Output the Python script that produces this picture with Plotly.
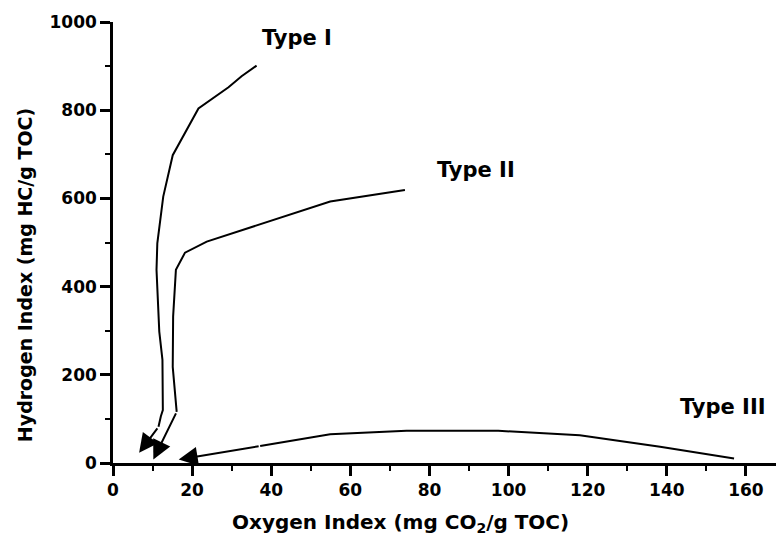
import plotly.graph_objects as go

# Type I pathway (Oxygen Index, Hydrogen Index)
type1_oi = [36.3, 32.5, 29.2, 21.6, 15.1, 12.7, 11.2, 11.0, 11.7, 12.5, 12.6, 12.1, 11.5]
type1_hi = [901, 877, 852, 804, 698, 604, 498, 438, 298, 234, 120, 106, 82]
type1_tip = (6.6, 23)

# Type II pathway
type2_oi = [73.8, 54.9, 23.7, 18.2, 15.9, 15.2, 15.1, 15.9, 16.1]
type2_hi = [619, 593, 502, 477, 438, 332, 218, 120, 116]
type2_tip = (10.2, 8)

# Type III pathway
type3_oi = [157.0, 138.3, 118.0, 97.4, 74.2, 54.9, 37.2]
type3_hi = [10, 37, 63, 73, 73, 65, 38.5]
type3_tip = (16.6, 8)

labels = ["Type I", "Type II", "Type III"]
label_x = [46.5, 91.8, 154.2]
label_y = [964, 664, 127]

x_ticks = [0, 20, 40, 60, 80, 100, 120, 140, 160]
y_ticks = [0, 200, 400, 600, 800, 1000]

FONT = "DejaVu Sans, Arial, sans-serif"

fig = go.Figure()
for xs, ys in [(type1_oi, type1_hi), (type2_oi, type2_hi), (type3_oi, type3_hi)]:
    fig.add_trace(go.Scatter(x=xs, y=ys, mode="lines",
                             line=dict(color="black", width=2),
                             showlegend=False, hoverinfo="skip"))

for xs, ys, tip in [(type1_oi, type1_hi, type1_tip),
                    (type2_oi, type2_hi, type2_tip),
                    (type3_oi, type3_hi, type3_tip)]:
    fig.add_annotation(x=tip[0], y=tip[1], ax=xs[-1], ay=ys[-1],
                       xref="x", yref="y", axref="x", ayref="y",
                       text="", showarrow=True, arrowhead=2, arrowsize=1.9,
                       arrowwidth=2, arrowcolor="black")

for t, lx, ly in zip(labels, label_x, label_y):
    fig.add_annotation(x=lx, y=ly, xref="x", yref="y", text=f"<b>{t}</b>",
                       showarrow=False, font=dict(family=FONT, size=21, color="black"))

# axis titles
fig.add_annotation(x=0.433, y=0, xref="paper", yref="paper", yshift=-60,
                   xanchor="center", yanchor="middle",
                   text="<b>Oxygen Index (mg CO<sub>2</sub>/g TOC)</b>", showarrow=False,
                   font=dict(family=FONT, size=20, color="black"))
fig.add_annotation(x=0, y=0.426, xref="paper", yref="paper", xshift=-88,
                   xanchor="center", yanchor="middle",
                   text="<b>Hydrogen Index (mg HC/g TOC)</b>", showarrow=False,
                   textangle=-90, font=dict(family=FONT, size=19, color="black"))

axis_common = dict(showgrid=False, zeroline=False, showline=True, linecolor="black",
                   linewidth=2.5, ticks="outside", ticklen=10, tickwidth=2.5,
                   tickcolor="black",
                   tickfont=dict(family=FONT, size=17, color="black"),
                   minor=dict(ticks="outside", ticklen=5, tickwidth=2, tickcolor="black"))

fig.update_xaxes(range=[0, 167.6], tickvals=x_ticks,
                 ticktext=[f"<b>{v}</b>" for v in x_ticks],
                 minor_dtick=10, minor_tick0=0, **axis_common)
fig.update_yaxes(range=[0, 1000], tickvals=y_ticks,
                 ticktext=[f"<b>{v}</b>" for v in y_ticks],
                 minor_dtick=100, minor_tick0=0, **axis_common)

fig.update_layout(width=778, height=541, plot_bgcolor="white", paper_bgcolor="white",
                  margin=dict(l=113, r=2, t=22, b=78), showlegend=False)

fig.write_html("out.html")
